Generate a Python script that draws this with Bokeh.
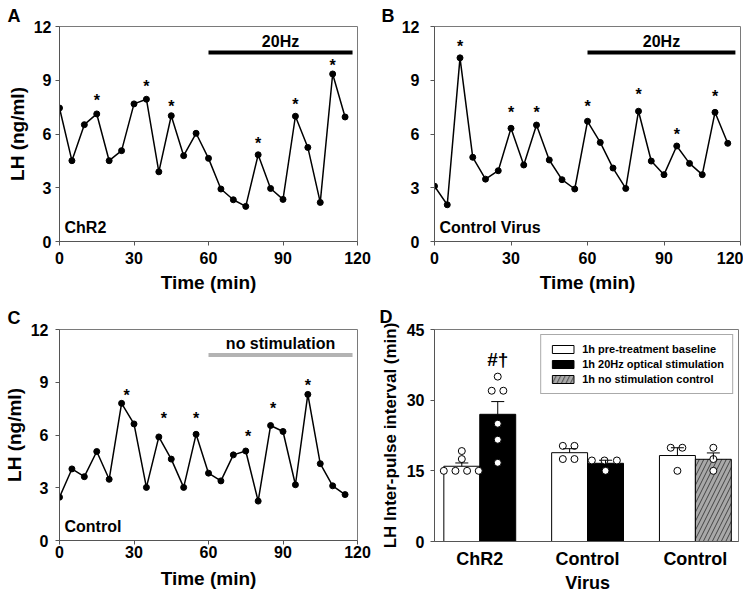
from bokeh.plotting import figure
from bokeh.layouts import gridplot
from bokeh.models import (Range1d, FixedTicker, Legend, LegendItem,
                          Whisker, TeeHead, ColumnDataSource)
from bokeh.core.properties import value
from bokeh.embed import file_html
from bokeh.resources import INLINE

FONT = "Liberation Sans"
AX = "#555555"

# ---------------- data ----------------
time_min = [0, 5, 10, 15, 20, 25, 30, 35, 40, 45, 50, 55,
            60, 65, 70, 75, 80, 85, 90, 95, 100, 105, 110, 115]
lh_chr2 = [7.45, 4.51, 6.52, 7.12, 4.51, 5.07, 7.68, 7.94, 3.89, 7.02, 4.79, 6.04,
           4.64, 2.93, 2.33, 1.96, 4.84, 2.96, 2.35, 6.99, 5.25, 2.18, 9.35, 6.95]
lh_virus = [3.09, 2.05, 10.25, 4.70, 3.48, 3.95, 6.32, 4.27, 6.50, 4.55, 3.45, 2.93,
            6.71, 5.53, 4.10, 2.96, 7.27, 4.49, 3.73, 5.33, 4.36, 3.73, 7.21, 5.48]
lh_control = [2.46, 4.07, 3.63, 5.06, 3.48, 7.80, 6.63, 3.02, 5.89, 4.63, 3.02, 6.04,
              3.83, 3.39, 4.87, 5.09, 2.24, 6.54, 6.20, 3.17, 8.31, 4.37, 3.11, 2.61]

# pulse markers (asterisks): time and height of the star
star_chr2_t = [15, 35, 45, 80, 95, 110]
star_chr2_y = [8.05, 8.83, 7.71, 5.63, 7.83, 9.99]
star_virus_t = [10, 30, 40, 60, 80, 95, 110]
star_virus_y = [11.03, 7.36, 7.36, 7.68, 8.38, 6.15, 8.27]
star_control_t = [27, 42, 55, 76, 86, 100]
star_control_y = [8.44, 7.13, 7.13, 6.11, 7.69, 9.00]

time_ticks = [0, 30, 60, 90, 120]
lh_ticks = [0, 3, 6, 9, 12]
treat_start, treat_end, treat_y = 60, 118, 10.55

# panel D
groups = ["ChR2", "Control\nVirus", "Control"]
ipi_ticks = [0, 15, 30, 45]
base_mean = [15.97, 18.85, 18.25]
base_sem = [0.70, 0.85, 1.65]
stim_mean = [27.0, 16.6]
stim_sem = [2.7, 0.65]
nostim_mean = [17.45]
nostim_sem = [1.35]
base_pts = [[15, 15, 15, 15, 17.5, 19.2], [20.3, 20.3, 17.5, 17.5], [19.9, 19.9, 15.0]]
base_dx = [[-0.167, -0.059, 0.049, 0.157, 0, 0], [-0.063, 0.045, -0.063, 0.045], [-0.062, 0.046, 0]]
stim_pts = [[35, 32, 32, 25, 21.6, 16.7], [17.2, 17.2, 17.2, 15.0]]
stim_dx = [[0, -0.056, 0.052, 0, 0, 0], [-0.127, -0.01, 0.105, 0]]
nostim_pts = [[19.9, 17.5, 15.0]]
nostim_dx = [[0, 0, 0]]
legend_labels = ["1h pre-treatment baseline", "1h 20Hz optical stimulation",
                 "1h no stimulation control"]


def style_axes(p):
    p.xgrid.visible = False
    p.ygrid.visible = False
    p.outline_line_color = "#7a7a7a"
    p.outline_line_width = 1
    for ax in (p.xaxis[0], p.yaxis[0]):
        ax.axis_line_color = AX
        ax.major_tick_line_color = AX
        ax.major_tick_out = 4
        ax.major_tick_in = 0
        ax.minor_tick_out = 0
        ax.minor_tick_in = 0
        ax.major_label_text_font = FONT
        ax.major_label_text_font_style = "bold"
        ax.major_label_text_font_size = "16px"
        ax.major_label_text_color = "black"
        ax.axis_label_text_font = FONT
        ax.axis_label_text_font_style = "bold"
        ax.axis_label_text_font_size = "19px"
        ax.axis_label_text_color = "black"


def panel_letter(p, txt, offset, standoff):
    p.title.text = txt
    p.title.align = "left"
    p.title.offset = offset
    p.title.standoff = standoff
    p.title.text_font = FONT
    p.title.text_font_style = "bold"
    p.title.text_font_size = "18px"
    p.title.text_color = "black"


def time_panel(series, st_t, st_y, tag, bar_label, bar_color, ylabel,
               fw, fh, bl, br, bt, bb, ystand, xstand, xlstand):
    p = figure(frame_width=fw, frame_height=fh, x_range=Range1d(0, 120),
               y_range=Range1d(0, 12), output_backend="svg", toolbar_location=None,
               min_border_left=bl, min_border_right=br, min_border_top=bt,
               min_border_bottom=bb)
    style_axes(p)
    p.xaxis.ticker = FixedTicker(ticks=time_ticks)
    p.yaxis.ticker = FixedTicker(ticks=lh_ticks)
    p.xaxis.axis_label = "Time (min)"
    p.xaxis.major_label_standoff = xstand
    p.xaxis.axis_label_standoff = xlstand
    if ylabel:
        p.yaxis.axis_label = ylabel
        p.yaxis.axis_label_standoff = 3
    p.yaxis.major_label_standoff = ystand
    p.line(time_min, series, line_color="black", line_width=1.5)
    p.scatter(time_min, series, size=6, fill_color="black", line_color="black")
    p.text(x=st_t, y=st_y, text=["*"] * len(st_t), text_align="center",
           text_baseline="alphabetic", y_offset=3, text_font=value(FONT),
           text_font_style="bold", text_font_size="16px", text_color="black")
    p.segment(x0=[treat_start], y0=[treat_y], x1=[treat_end], y1=[treat_y],
              line_color=bar_color, line_width=4)
    p.text(x=[(treat_start + treat_end) / 2], y=[treat_y], text=[bar_label],
           text_align="center", text_baseline="alphabetic", y_offset=-11,
           text_font=value(FONT), text_font_style="bold", text_font_size="16px",
           text_color="black")
    p.text(x=[0], y=[0], text=[tag], x_offset=5, y_offset=-14, text_align="left",
           text_baseline="alphabetic", text_font=value(FONT), text_font_style="bold",
           text_font_size="16px", text_color="black")
    return p


pA = time_panel(lh_chr2, star_chr2_t, star_chr2_y, "ChR2", "20Hz", "black",
                "LH (ng/ml)", 298, 215, 52, 18, 26, 59, 4, 6, 5)
pB = time_panel(lh_virus, star_virus_t, star_virus_y, "Control Virus", "20Hz", "black",
                None, 306, 215, 57, 5, 26, 59, 11, 6, 5)
pC = time_panel(lh_control, star_control_t, star_control_y, "Control", "no stimulation",
                "#b3b3b3", "LH (ng/ml)", 298, 211, 52, 18, 28, 53, 7, 1, 7)

panel_letter(pA, "A", -52, 2)
panel_letter(pB, "B", -53, 2)
panel_letter(pC, "C", -52, 4)

# ---------------- panel D ----------------
pD = figure(frame_width=304, frame_height=212, x_range=Range1d(0.58, 3.40),
            y_range=Range1d(0, 45), output_backend="svg", toolbar_location=None,
            min_border_left=59, min_border_right=5, min_border_top=29, min_border_bottom=51)
style_axes(pD)
panel_letter(pD, "D", -55, 5)
pD.yaxis.ticker = FixedTicker(ticks=ipi_ticks)
pD.yaxis.axis_label = "LH Inter-pulse interval (min)"
pD.yaxis.axis_label_text_font_size = "17px"
pD.yaxis.axis_label_standoff = 4
pD.yaxis.major_label_standoff = 6
pD.xaxis.ticker = FixedTicker(ticks=[1, 2, 3])
pD.xaxis.major_label_overrides = {i + 1: g for i, g in enumerate(groups)}
pD.xaxis.major_tick_out = 0
pD.xaxis.major_label_text_font_size = "18px"
pD.xaxis.major_label_standoff = 7

bw = 1 / 3
gx = [1, 2, 3]
base_x = [g - bw / 2 for g in gx]
stim_x = [g + bw / 2 for g in gx[:2]]
nostim_x = [gx[2] + bw / 2]

rb = pD.vbar(x=base_x, top=base_mean, width=bw, fill_color="white", line_color="black",
             line_width=1)
rs = pD.vbar(x=stim_x, top=stim_mean, width=bw, fill_color="black", line_color="black",
             line_width=1)
rn = pD.vbar(x=nostim_x, top=nostim_mean, width=bw, fill_color="#a8a8a8",
             line_color="black", line_width=1, hatch_pattern="/", hatch_color="#444444",
             hatch_scale=9, hatch_weight=1)

for xs, m, s in ((base_x, base_mean, base_sem), (stim_x, stim_mean, stim_sem),
                 (nostim_x, nostim_mean, nostim_sem)):
    src = ColumnDataSource(dict(x=xs, lower=m, upper=[a + b for a, b in zip(m, s)]))
    w = Whisker(source=src, base="x", lower="lower", upper="upper", dimension="height",
                line_color="black", line_width=1, level="glyph",
                upper_head=TeeHead(size=13, line_color="black", line_width=1),
                lower_head=None)
    pD.add_layout(w)

px, py = [], []
for xs, pts, dxs in ((base_x, base_pts, base_dx), (stim_x, stim_pts, stim_dx),
                     (nostim_x, nostim_pts, nostim_dx)):
    for xc, vals, dd in zip(xs, pts, dxs):
        for v, d in zip(vals, dd):
            px.append(xc + d)
            py.append(v)
pD.scatter(px, py, size=7, fill_color="white", line_color="black", line_width=1)

pD.text(x=[stim_x[0]], y=[38.7], text=["#\u2020"], text_align="center",
        text_baseline="middle", text_font=value(FONT), text_font_style="bold",
        text_font_size="19px", text_color="black")

legend = Legend(items=[LegendItem(label=legend_labels[0], renderers=[rb]),
                       LegendItem(label=legend_labels[1], renderers=[rs]),
                       LegendItem(label=legend_labels[2], renderers=[rn])],
                location="top_right", margin=5, padding=8, spacing=3,
                glyph_width=27, glyph_height=10, label_height=10, label_standoff=6,
                label_text_font=FONT, label_text_font_style="bold",
                label_text_font_size="11px", label_text_color="black",
                border_line_color="#555555", border_line_width=1,
                background_fill_color="white", background_fill_alpha=1)
pD.add_layout(legend)

grid = gridplot([[pA, pB], [pC, pD]], toolbar_location=None)

open("out.html", "w").write(file_html(grid, INLINE))
